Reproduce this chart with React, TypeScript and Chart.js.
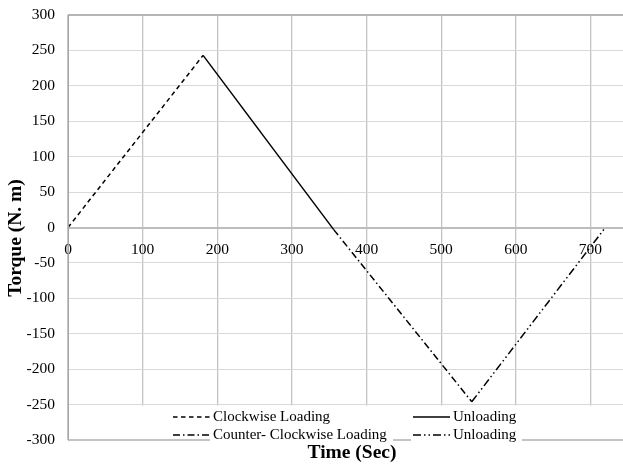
import React, { useEffect, useRef } from 'react';
import { Chart, registerables } from 'chart.js';
Chart.register(...registerables);

// ---- data ----
const cwLoadingX = [0, 181];
const cwLoadingY = [0, 243];
const unloading1X = [181, 356];
const unloading1Y = [243, -3];
const ccwLoadingX = [356, 541];
const ccwLoadingY = [-3, -246];
const unloading2X = [541, 720];
const unloading2Y = [-246, 0];
const xTickValues = [0, 100, 200, 300, 400, 500, 600, 700];
const yTickValues = [-300, -250, -200, -150, -100, -50, 0, 50, 100, 150, 200, 250, 300];
const seriesNames = ['Clockwise Loading', 'Unloading', 'Counter- Clockwise Loading', 'Unloading'];
const xTitle = 'Time (Sec)';
const yTitle = 'Torque (N. m)';

const FONT = "'Liberation Serif', 'Times New Roman', serif";

const pts = (xs: number[], ys: number[]) => xs.map((x, i) => ({ x, y: ys[i] }));

const dashes: number[][] = [
  [4.5, 3.5],
  [],
  [7, 3, 1.5, 3],
  [8, 3, 1.5, 3, 1.5, 3],
];

const overlayPlugin = {
  id: 'overlay',
  afterDatasetsDraw(chart: any) {
    const ctx = chart.ctx as CanvasRenderingContext2D;
    const { left, right, top, bottom } = chart.chartArea;
    const y = chart.scales.y;
    ctx.save();
    // white legend area inside plot
    const yLeg = y.getPixelForValue(-250) + 1;
    ctx.fillStyle = '#ffffff';
    ctx.fillRect(left + 1, yLeg, right - left, bottom - yLeg + 2);
    // left border
    ctx.strokeStyle = '#a6a6a6';
    ctx.lineWidth = 1;
    ctx.beginPath();
    ctx.moveTo(left + 0.5, top);
    ctx.lineTo(left + 0.5, bottom + 0.5);
    ctx.stroke();
    // bottom border segments
    const segs = [[left, 210], [393, 411], [522, right]];
    ctx.strokeStyle = '#b0b0b0';
    ctx.lineWidth = 1.5;
    segs.forEach(([a, b]) => {
      ctx.beginPath();
      ctx.moveTo(a, bottom);
      ctx.lineTo(b, bottom);
      ctx.stroke();
    });
    // legend
    const entries = [
      { i: 0, x: 173, y: 417 },
      { i: 1, x: 413, y: 417 },
      { i: 2, x: 173, y: 435 },
      { i: 3, x: 413, y: 435 },
    ];
    ctx.font = `15px ${FONT}`;
    ctx.textBaseline = 'middle';
    ctx.textAlign = 'left';
    entries.forEach((e) => {
      ctx.strokeStyle = '#000';
      ctx.lineWidth = 1.5;
      ctx.setLineDash(dashes[e.i]);
      ctx.beginPath();
      ctx.moveTo(e.x, e.y);
      ctx.lineTo(e.x + 37, e.y);
      ctx.stroke();
      ctx.setLineDash([]);
      ctx.fillStyle = '#000';
      ctx.fillText(seriesNames[e.i], e.x + 40, e.y);
    });
    // axis titles
    ctx.font = `bold 19.5px ${FONT}`;
    ctx.textAlign = 'center';
    ctx.fillText(xTitle, 352, 453);
    ctx.translate(16, 238);
    ctx.rotate(-Math.PI / 2);
    ctx.fillText(yTitle, 0, 0);
    ctx.restore();
  },
};

export default function App() {
  const ref = useRef<HTMLCanvasElement>(null);
  useEffect(() => {
    if (!ref.current) return;
    const data = [
      pts(cwLoadingX, cwLoadingY),
      pts(unloading1X, unloading1Y),
      pts(ccwLoadingX, ccwLoadingY),
      pts(unloading2X, unloading2Y),
    ];
    const chart = new Chart(ref.current, {
      type: 'line',
      data: {
        datasets: data.map((d, i) => ({
          label: seriesNames[i],
          data: d,
          borderColor: '#000',
          borderWidth: 1.5,
          borderDash: dashes[i],
          pointRadius: 0,
          fill: false,
          tension: 0,
        })),
      },
      options: {
        animation: false,
        responsive: false,
        devicePixelRatio: 1,
        layout: { padding: { left: 0, top: 15, right: 0, bottom: 25 } },
        plugins: { legend: { display: false }, tooltip: { enabled: false } },
        scales: {
          x: {
            type: 'linear',
            position: { y: 0 } as any,
            min: 0,
            max: 743.6,
            afterBuildTicks: (s: any) => {
              s.ticks = xTickValues.map((v) => ({ value: v }));
            },
            grid: {
              color: '#c4c4c4',
              lineWidth: 1.3,
              drawTicks: false,
            },
            border: { display: true, color: '#bdbdbd', width: 2 },
            ticks: {
              color: '#000',
              font: { family: FONT, size: 15.5 },
              padding: 13,
              maxRotation: 0,
            },
          },
          y: {
            type: 'linear',
            min: -300,
            max: 300,
            afterBuildTicks: (s: any) => {
              s.ticks = yTickValues.map((v) => ({ value: v }));
            },
            afterFit: (s: any) => {
              s.width = 68;
              s.paddingTop = 0;
              s.paddingBottom = 0;
            },
            grid: {
              color: (c: any) => (c.tick && c.tick.value === 300 ? '#b4b4b4' : '#d9d9d9'),
              lineWidth: (c: any) => (c.tick && c.tick.value === 300 ? 2 : 1),
              drawTicks: false,
            },
            border: { display: false },
            ticks: {
              color: '#000',
              font: { family: FONT, size: 15.5 },
              padding: 13,
            },
          },
        },
      },
      plugins: [overlayPlugin],
    } as any);
    return () => chart.destroy();
  }, []);
  return (
    <div style={{ position: 'absolute', left: 0, top: 0, width: 623, height: 465, background: '#fff' }}>
      <canvas ref={ref} width={623} height={465} style={{ display: 'block' }} />
    </div>
  );
}
